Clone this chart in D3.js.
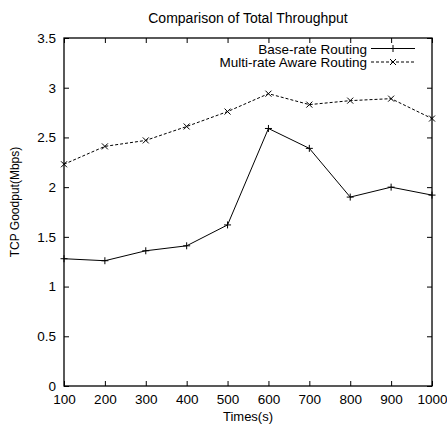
<!DOCTYPE html>
<html><head><meta charset="utf-8">
<script src="https://cdn.jsdelivr.net/npm/d3@7"></script>
<style>body{margin:0;background:#fff}svg{display:block}text{font-family:"Liberation Sans",Arial,sans-serif;fill:#000}</style>
</head><body><svg id="c" width="447" height="426"></svg>
<script>
const times = [100,200,300,400,500,600,700,800,900,1000];
const baseRate = [1.28,1.26,1.36,1.41,1.62,2.59,2.39,1.90,2.00,1.92];
const multiRate = [2.23,2.41,2.47,2.61,2.76,2.94,2.83,2.87,2.89,2.69];
const xTicks = [100,200,300,400,500,600,700,800,900,1000];
const yTicks = [0,0.5,1,1.5,2,2.5,3,3.5];
const seriesNames = ["Base-rate Routing","Multi-rate Aware Routing"];

const L=64,R=432,T=38,B=386;
const svg=d3.select("#c");
const x=d3.scaleLinear().domain([100,1000]).range([L,R]);
const y=d3.scaleLinear().domain([0,3.5]).range([B,T]);
const fs=13.5;

function styleAxis(g){g.select(".domain").remove();g.selectAll("line").attr("stroke","#000");g.selectAll("text").attr("font-size",fs).style("font-family","Liberation Sans, Arial, sans-serif");}
svg.append("g").attr("transform",`translate(0,${B})`).call(d3.axisBottom(x).tickValues(xTicks).tickSize(-5).tickPadding(8).tickFormat(d3.format("d"))).call(styleAxis);
svg.append("g").attr("transform",`translate(0,${T})`).call(d3.axisTop(x).tickValues(xTicks).tickSize(-5).tickFormat("")).call(styleAxis);
svg.append("g").attr("transform",`translate(${L},0)`).call(d3.axisLeft(y).tickValues(yTicks).tickSize(-5).tickPadding(8).tickFormat(d=>String(d))).call(styleAxis);
svg.append("g").attr("transform",`translate(${R},0)`).call(d3.axisRight(y).tickValues(yTicks).tickSize(-5).tickFormat("")).call(styleAxis);
svg.append("rect").attr("x",L).attr("y",T).attr("width",R-L).attr("height",B-T).attr("fill","none").attr("stroke","#000").attr("stroke-width",1.3);

const line=d3.line().x((d,i)=>x(times[i])).y(d=>y(d));
svg.append("path").datum(baseRate).attr("d",line).attr("fill","none").attr("stroke","#000").attr("stroke-width",1);
svg.append("path").datum(multiRate).attr("d",line).attr("fill","none").attr("stroke","#000").attr("stroke-width",1).attr("stroke-dasharray","3,2");

function plus(g,cx,cy){g.append("path").attr("d",`M${cx-3.5},${cy}H${cx+3.5}M${cx},${cy-3.5}V${cy+3.5}`).attr("stroke","#000").attr("stroke-width",1);}
function cross(g,cx,cy){g.append("path").attr("d",`M${cx-3},${cy-3}L${cx+3},${cy+3}M${cx-3},${cy+3}L${cx+3},${cy-3}`).attr("stroke","#000").attr("stroke-width",1);}
const mk=svg.append("g");
baseRate.forEach((v,i)=>plus(mk,x(times[i]),y(v)));
multiRate.forEach((v,i)=>cross(mk,x(times[i]),y(v)));

const lg=svg.append("g");
const rows=[{n:seriesNames[0],dash:null,m:plus,y:48.5},{n:seriesNames[1],dash:"3,2",m:cross,y:62}];
rows.forEach(r=>{
  lg.append("text").attr("x",367).attr("y",r.y+5).attr("text-anchor","end").attr("font-size",fs).text(r.n);
  lg.append("line").attr("x1",371).attr("x2",415).attr("y1",r.y).attr("y2",r.y).attr("stroke","#000").attr("stroke-width",1).attr("stroke-dasharray",r.dash);
  r.m(lg,393,r.y);
});

svg.append("text").attr("x",248).attr("y",23).attr("text-anchor","middle").attr("font-size",14).text("Comparison of Total Throughput");
svg.append("text").attr("x",248).attr("y",421).attr("text-anchor","middle").attr("font-size",13).text("Times(s)");
svg.append("text").attr("transform",`translate(19,202) rotate(-90)`).attr("text-anchor","middle").attr("font-size",12).text("TCP Goodput(Mbps)");
</script></body></html>
